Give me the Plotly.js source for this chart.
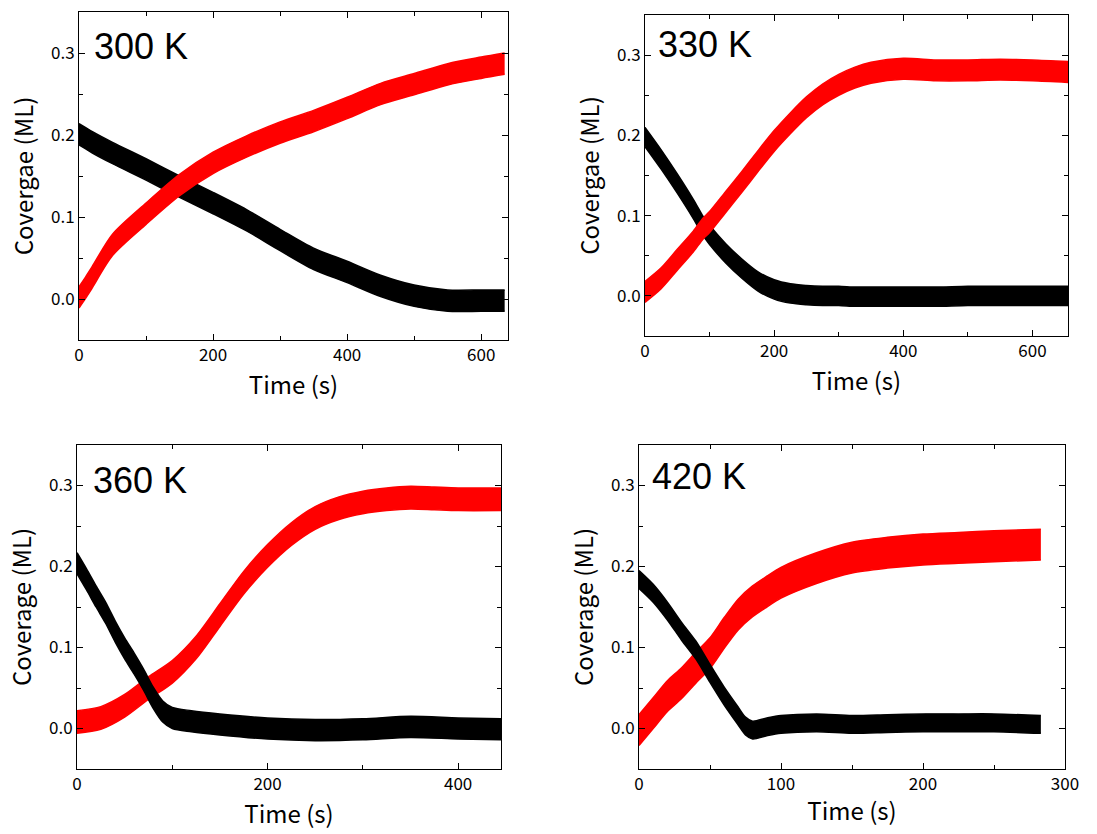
<!DOCTYPE html>
<html>
<head>
<meta charset="utf-8">
<script src="https://cdn.plot.ly/plotly-3.0.1.min.js"></script>
<style>html,body{margin:0;padding:0;background:#fff;}#chart{width:1097px;height:834px;}</style>
</head>
<body>
<div id="chart"></div>
<script>
// ---- Data (center of each scatter band) ----
const panelLabels = ["300 K", "330 K", "360 K", "420 K"];
const yTitles = ["Covergae (ML)", "Covergae (ML)", "Coverage (ML)", "Coverage (ML)"];
const xTitle = "Time (s)";

const t300 = [0, 10, 20, 50, 100, 150, 200, 250, 300, 350, 400, 450, 500, 550, 600, 635];
const red300 = [0.002, 0.014, 0.027, 0.066, 0.104, 0.139, 0.166, 0.186, 0.203, 0.217, 0.233, 0.250, 0.262, 0.274, 0.282, 0.287];
const black300 = [0.201, 0.196, 0.191, 0.178, 0.158, 0.137, 0.117, 0.096, 0.072, 0.049, 0.033, 0.016, 0.004, -0.002, -0.002, -0.002];

const t330 = [0, 25, 50, 75, 90, 100, 125, 150, 175, 200, 225, 250, 275, 300, 325, 350, 400, 450, 500, 550, 600, 655];
const red330 = [0.005, 0.022, 0.045, 0.068, 0.084, 0.092, 0.117, 0.142, 0.168, 0.193, 0.215, 0.235, 0.251, 0.263, 0.272, 0.278, 0.283, 0.281, 0.281, 0.282, 0.281, 0.279];
const black330 = [0.198, 0.170, 0.140, 0.108, 0.087, 0.076, 0.053, 0.034, 0.018, 0.008, 0.003, 0.001, 0.000, 0.000, -0.001, -0.001, -0.001, -0.001, 0.000, 0.000, 0.000, 0.000];

const t360r = [0, 25, 50, 75, 100, 125, 150, 175, 200, 225, 250, 275, 300, 325, 350, 375, 400, 445];
const red360 = [0.008, 0.013, 0.028, 0.050, 0.070, 0.100, 0.140, 0.180, 0.213, 0.240, 0.260, 0.272, 0.279, 0.283, 0.285, 0.284, 0.283, 0.283];
const t360b = [0, 10, 20, 30, 40, 50, 60, 70, 80, 90, 100, 120, 150, 200, 250, 300, 350, 400, 445];
const black360 = [0.204, 0.184, 0.163, 0.143, 0.120, 0.099, 0.080, 0.060, 0.038, 0.021, 0.013, 0.009, 0.005, 0.000, -0.002, -0.001, 0.002, 0.000, -0.001];

const t420r = [0, 10, 20, 30, 40, 50, 60, 70, 80, 90, 100, 125, 150, 175, 200, 225, 250, 283];
const red420 = [-0.002, 0.019, 0.040, 0.056, 0.075, 0.093, 0.118, 0.141, 0.157, 0.169, 0.180, 0.198, 0.211, 0.217, 0.221, 0.223, 0.225, 0.227];
const t420b = [0, 10, 20, 30, 40, 50, 60, 70, 75, 80, 90, 100, 125, 150, 175, 200, 225, 250, 283];
const black420 = [0.184, 0.167, 0.145, 0.120, 0.097, 0.068, 0.040, 0.015, 0.003, -0.002, 0.002, 0.005, 0.007, 0.005, 0.006, 0.007, 0.007, 0.007, 0.005];

// half thickness of each scatter band (ML)
const bandRed = [0.013, 0.013, 0.014, 0.019];
const bandBlack = [0.013, 0.012, 0.013, 0.011];

const xRanges = [[0, 640], [0, 655], [0, 445], [0, 300]];
const xDticks = [200, 200, 200, 100];

// ---- Layout geometry (pixels) ----
const W = 1097, H = 834;
const boxes = [
  {l: 79, r: 508, t: 12, b: 340},
  {l: 645, r: 1068, t: 15, b: 336},
  {l: 77, r: 501, t: 445, b: 769},
  {l: 639, r: 1065, t: 445, b: 769}
];
const labelPos = [{x: 92, y: 47}, {x: 656, y: 44}, {x: 91, y: 480}, {x: 650, y: 476}];

const series = [
  {t: [t300, t300], red: red300, black: black300, redTop: true},
  {t: [t330, t330], red: red330, black: black330, redTop: true},
  {t: [t360r, t360b], red: red360, black: black360, redTop: false},
  {t: [t420r, t420b], red: red420, black: black420, redTop: false}
];

function band(x, y, hw, color, xa, ya) {
  const lo = y.map(v => v - hw), hi = y.map(v => v + hw);
  return [
    {x: x, y: lo, xaxis: xa, yaxis: ya, mode: 'lines', type: 'scatter',
     line: {color: color, width: 1.5, shape: 'spline', smoothing: 0.8}, hoverinfo: 'skip', showlegend: false},
    {x: x, y: hi, xaxis: xa, yaxis: ya, mode: 'lines', type: 'scatter', fill: 'tonexty', fillcolor: color,
     line: {color: color, width: 1.5, shape: 'spline', smoothing: 0.8}, hoverinfo: 'skip', showlegend: false}
  ];
}

const traces = [];
const layout = {
  width: W, height: H, margin: {l: 0, r: 0, t: 0, b: 0},
  paper_bgcolor: '#fff', plot_bgcolor: '#fff', showlegend: false,
  annotations: []
};
const tickFont = {family: '"Noto Sans CJK JP", "Noto Sans", sans-serif', size: 17, color: '#000'};
const titleFont = {family: '"Noto Sans CJK JP", "Noto Sans", sans-serif', size: 24, color: '#000'};

series.forEach((s, i) => {
  const n = i + 1;
  const xa = 'x' + (n === 1 ? '' : n), ya = 'y' + (n === 1 ? '' : n);
  const redT = band(s.t[0], s.red, bandRed[i], '#ff0000', xa, ya);
  const blkT = band(s.t[1], s.black, bandBlack[i], '#000000', xa, ya);
  if (s.redTop) { traces.push(...blkT, ...redT); } else { traces.push(...redT, ...blkT); }

  const b = boxes[i];
  const axCommon = {
    showline: true, linecolor: '#000', linewidth: 1, mirror: 'allticks',
    ticks: 'inside', ticklen: 6, tickwidth: 1, tickcolor: '#000',
    showgrid: false, zeroline: false, tickfont: tickFont
  };
  layout['xaxis' + (n === 1 ? '' : n)] = Object.assign({}, axCommon, {
    domain: [b.l / W, b.r / W], anchor: ya, range: xRanges[i],
    tick0: 0, dtick: xDticks[i],
    minor: {ticks: 'inside', ticklen: 4, dtick: xDticks[i] / 2, tickcolor: '#000', showgrid: false},
    title: {text: xTitle, font: titleFont, standoff: 8}
  });
  layout['yaxis' + (n === 1 ? '' : n)] = Object.assign({}, axCommon, {
    domain: [1 - b.b / H, 1 - b.t / H], anchor: xa, range: [-0.05, 0.35],
    tick0: 0, dtick: 0.1, tickformat: '.1f',
    minor: {ticks: 'inside', ticklen: 4, dtick: 0.05, tickcolor: '#000', showgrid: false},
    title: {text: yTitles[i], font: titleFont, standoff: 10}
  });
  layout.annotations.push({
    text: panelLabels[i], xref: 'paper', yref: 'paper',
    x: labelPos[i].x / W, y: 1 - labelPos[i].y / H, xanchor: 'left', yanchor: 'middle',
    showarrow: false, font: {family: '"Liberation Sans", Arial, sans-serif', size: 36, color: '#000'}
  });
});

Plotly.newPlot('chart', traces, layout, {staticPlot: true});
</script>
</body>
</html>
